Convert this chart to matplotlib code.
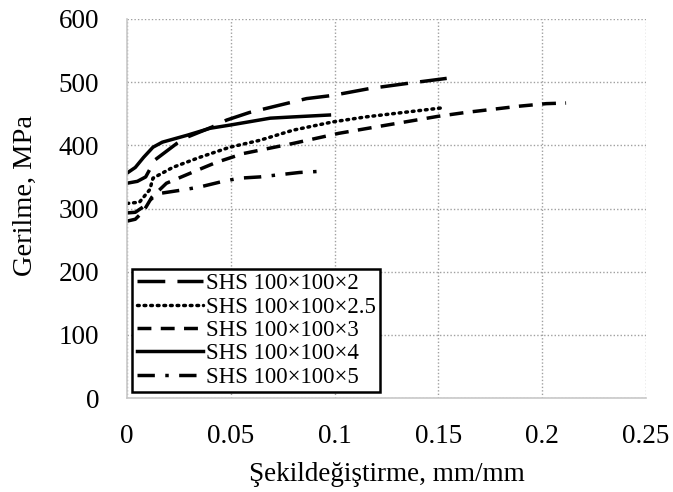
import matplotlib
matplotlib.use("Agg")
import matplotlib.pyplot as plt

plt.rcParams['font.family'] = ['Liberation Serif', 'DejaVu Serif']

labels = ["SHS 100×100×2", "SHS 100×100×2.5", "SHS 100×100×3", "SHS 100×100×4", "SHS 100×100×5"]

x_2 = [0.0, 0.005, 0.009, 0.0135, 0.024, 0.029, 0.041, 0.048, 0.059, 0.069, 0.0865, 0.099, 0.117, 0.135, 0.154]
y_2 = [340, 343, 350, 377, 403, 413, 429, 440, 452, 460, 474, 479, 490, 498, 506]

x_25 = [0.0, 0.006, 0.011, 0.0125, 0.022, 0.035, 0.0495, 0.064, 0.080, 0.099, 0.115, 0.133, 0.151]
y_25 = [308, 310, 330, 348, 365, 381, 397, 408, 424, 437, 445, 452, 459]

x_3 = [0.0, 0.004, 0.008, 0.012, 0.019, 0.032, 0.043, 0.056, 0.080, 0.102, 0.125, 0.150, 0.163, 0.176, 0.189, 0.202, 0.2115]
y_3 = [280, 283, 296, 318, 340, 358, 373, 387, 403, 419, 432, 446, 452, 457, 462, 466, 467]

x_4 = [0.0, 0.004, 0.008, 0.0125, 0.017, 0.029, 0.040, 0.0495, 0.069, 0.080, 0.0975]
y_4 = [356, 365, 381, 397, 405, 416, 427, 432, 443, 445, 448]

x_5 = [0.0, 0.004, 0.008, 0.012, 0.016, 0.026, 0.035, 0.045, 0.054, 0.064, 0.083, 0.094]
y_5 = [293, 294, 303, 316, 324, 329, 334, 342, 348, 350, 357, 359]

x_ticks = [0, 0.05, 0.1, 0.15, 0.2, 0.25]
x_ticklabels = ["0", "0.05", "0.1", "0.15", "0.2", "0.25"]
y_ticks = [0, 100, 200, 300, 400, 500, 600]

fig = plt.figure(figsize=(6.73, 4.92), dpi=100)
ax = fig.add_axes([127/673, 1-398/492, (646-127)/673, (398-19)/492])

lw = 2.5
ax.plot(x_2, y_2, color='black', lw=lw, linestyle=(0, (8, 3.5)), label=labels[0])
ax.plot(x_25, y_25, color='black', lw=lw, linestyle=(0, (0.5, 1.4)), dash_capstyle='round', label=labels[1])
ax.plot(x_3, y_3, color='black', lw=lw, linestyle=(0, (4, 2.7)), label=labels[2])
ax.plot(x_4, y_4, color='black', lw=lw, linestyle='-', label=labels[3])
ax.plot(x_5, y_5, color='black', lw=lw, linestyle=(0, (5, 3, 1, 3)), label=labels[4])

ax.set_xlim(0, 0.25)
ax.set_ylim(0, 600)
ax.set_xticks(x_ticks)
ax.set_xticklabels(x_ticklabels)
ax.set_yticks(y_ticks)
ax.grid(True, color='#a0a0a0', linestyle=(0, (1, 1.5)), linewidth=1.0)
ax.set_axisbelow(True)
for s in ['top', 'right']:
    ax.spines[s].set_visible(False)
for s in ['left', 'bottom']:
    ax.spines[s].set_color('#c8c8c8')
    ax.spines[s].set_linewidth(1.2)
ax.tick_params(axis='both', length=0, labelsize=19.5)
ax.tick_params(axis='y', pad=20)
ax.tick_params(axis='x', pad=19)

ax.set_xlabel("Şekildeğiştirme, mm/mm", fontsize=19.5, labelpad=9)
ax.set_ylabel("Gerilme, MPa", fontsize=20.5)
ax.yaxis.set_label_coords(-0.172, 0.535)

leg = ax.legend(loc='lower left', bbox_to_anchor=(0.01, 0.015), fontsize=16.5,
                handlelength=2.9, handletextpad=0.1, borderpad=0.2,
                labelspacing=0.1, fancybox=False, framealpha=1, borderaxespad=0)
leg.get_frame().set_edgecolor('black')
leg.get_frame().set_linewidth(1.8)

fig.savefig("out.png", dpi=100)
